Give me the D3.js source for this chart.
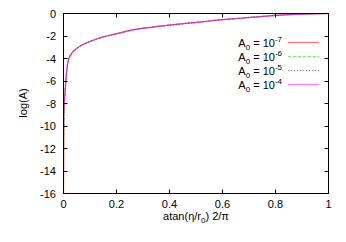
<!DOCTYPE html>
<meta charset="utf-8">
<script src="https://d3js.org/d3.v7.min.js"></script>
<style>
   body {
      background-color: white;
      margin: 0;
      padding: 0;
   }
   text {
      font-family: "Liberation Sans", Arial, sans-serif;
      font-size: 11px;
      fill: #000;
   }
</style>
<body>
<svg id="chart" width="346" height="242"></svg>
<script>
   // values
   var tVals = [0, 0.002, 0.0064, 0.0087, 0.0124, 0.0188, 0.031, 0.05, 0.075, 0.107, 0.144, 0.202, 0.265, 0.328, 0.391, 0.453, 0.516, 0.573, 0.679, 0.805, 0.93, 1.0];
   var logA7 = [-17, -9, -6.8, -6.0, -5.0, -4.1, -3.55, -3.1, -2.74, -2.42, -2.12, -1.79, -1.44, -1.23, -1.05, -0.9, -0.76, -0.61, -0.4, -0.16, -0.04, 0];
   var logA6 = [-14, -8.8, -6.8, -6.0, -5.0, -4.1, -3.55, -3.1, -2.74, -2.42, -2.12, -1.79, -1.44, -1.23, -1.05, -0.9, -0.76, -0.61, -0.4, -0.16, -0.04, 0];
   var logA5 = [-11, -8.5, -6.8, -6.0, -5.0, -4.1, -3.55, -3.1, -2.74, -2.42, -2.12, -1.79, -1.44, -1.23, -1.05, -0.9, -0.76, -0.61, -0.4, -0.16, -0.04, 0];
   var logA4 = [-9, -8.2, -6.8, -6.0, -5.0, -4.1, -3.55, -3.1, -2.74, -2.42, -2.12, -1.79, -1.44, -1.23, -1.05, -0.9, -0.76, -0.61, -0.4, -0.16, -0.04, 0];
   var exponents = ["-7", "-6", "-5", "-4"];
   var xTicks = [0, 0.2, 0.4, 0.6, 0.8, 1];
   var yTicks = [0, -2, -4, -6, -8, -10, -12, -14, -16];

   var series = [
      { exp: exponents[0], vals: logA7, color: "#ff0000", dash: null },
      { exp: exponents[1], vals: logA6, color: "#00e000", dash: "3,2" },
      { exp: exponents[2], vals: logA5, color: "#0000ff", dash: "1,2" },
      { exp: exponents[3], vals: logA4, color: "#ff00ff", dash: null }
   ];

   var svg = d3.select("#chart");
   var pL = 63.5, pR = 328.5, pT = 13.5, pB = 193.5;

   var x = d3.scaleLinear().domain([0, 1]).range([pL, pR]);
   var y = d3.scaleLinear().domain([-16, 0]).range([pB, pT]);

   // clip to the plot box
   svg.append("clipPath").attr("id", "clip")
      .append("rect")
      .attr("x", pL).attr("y", pT)
      .attr("width", pR - pL).attr("height", pB - pT);

   // curves
   var line = d3.line()
      .x(function (d, i) { return x(tVals[i]) })
      .y(function (d) { return y(d) })
      .curve(d3.curveMonotoneX);

   svg.append("g")
      .attr("clip-path", "url(#clip)")
      .selectAll("path")
      .data(series)
      .enter()
      .append("path")
      .attr("d", function (d) { return line(d.vals) })
      .attr("fill", "none")
      .attr("stroke", function (d) { return d.color })
      .attr("stroke-opacity", 0.55)
      .attr("stroke-width", 1.2)
      .attr("stroke-dasharray", function (d) { return d.dash });

   // ticks (gnuplot style, inward and mirrored)
   var tk = 4;
   var g = svg.append("g").attr("stroke", "#000").attr("stroke-width", 1);
   xTicks.forEach(function (v) {
      var px = Math.round(x(v) - 0.5) + 0.5;
      g.append("line").attr("x1", px).attr("x2", px).attr("y1", pB).attr("y2", pB - tk);
      g.append("line").attr("x1", px).attr("x2", px).attr("y1", pT).attr("y2", pT + tk);
   });
   yTicks.forEach(function (v) {
      var py = Math.round(y(v) - 0.5) + 0.5;
      g.append("line").attr("x1", pL).attr("x2", pL + tk).attr("y1", py).attr("y2", py);
      g.append("line").attr("x1", pR).attr("x2", pR - tk).attr("y1", py).attr("y2", py);
   });

   // frame
   svg.append("rect")
      .attr("x", pL).attr("y", pT)
      .attr("width", pR - pL).attr("height", pB - pT)
      .attr("fill", "none")
      .attr("stroke", "#000")
      .attr("stroke-width", 1);

   // tick labels
   svg.append("g").selectAll("text")
      .data(xTicks).enter().append("text")
      .attr("x", function (d) { return x(d) })
      .attr("y", 208)
      .attr("text-anchor", "middle")
      .text(function (d) { return d });

   svg.append("g").selectAll("text")
      .data(yTicks).enter().append("text")
      .attr("x", 56)
      .attr("y", function (d) { return y(d) + 4 })
      .attr("text-anchor", "end")
      .text(function (d) { return d === 0 ? "0" : "-" + Math.abs(d) });

   // axis titles
   var xl = svg.append("text")
      .attr("x", x(0.5))
      .attr("y", 220)
      .attr("text-anchor", "middle");
   xl.append("tspan").text("atan(η/r");
   xl.append("tspan").attr("dy", 3).attr("font-size", "8px").text("0");
   xl.append("tspan").attr("dy", -3).text(") 2/π");

   svg.append("text")
      .attr("transform", "translate(27,103) rotate(-90)")
      .attr("text-anchor", "middle")
      .text("log(A)");

   // legend
   var legend = svg.append("g").selectAll("g")
      .data(series).enter().append("g")
      .attr("transform", function (d, i) { return "translate(0," + (42.5 + i * 14) + ")" });

   var lt = legend.append("text")
      .attr("x", 282)
      .attr("y", 4)
      .attr("text-anchor", "end");
   lt.append("tspan").text("A");
   lt.append("tspan").attr("dy", 3).attr("font-size", "8px").text("0");
   lt.append("tspan").attr("dy", -3).text(" = 10");
   lt.append("tspan").attr("dy", -5).attr("font-size", "8px").text(function (d) { return d.exp });

   legend.append("line")
      .attr("x1", 288).attr("x2", 319)
      .attr("y1", 0).attr("y2", 0)
      .attr("stroke", function (d) { return d.color })
      .attr("stroke-opacity", 0.55)
      .attr("stroke-width", 1.2)
      .attr("stroke-dasharray", function (d) { return d.dash });
</script>
</body>
